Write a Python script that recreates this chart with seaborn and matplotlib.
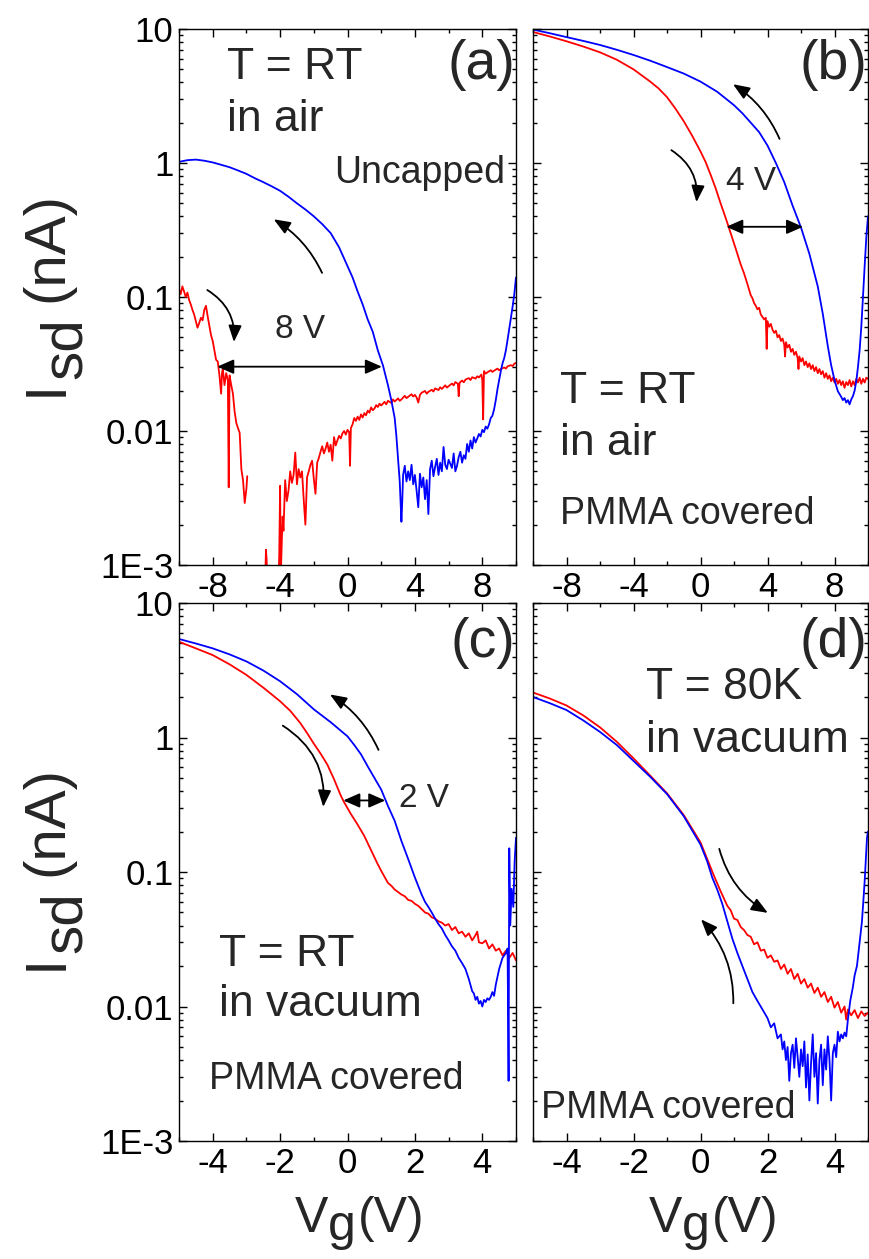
import matplotlib

matplotlib.use("Agg")
import matplotlib.pyplot as plt  # noqa: E402
import seaborn as sns  # noqa: E402
from matplotlib.ticker import (  # noqa: E402
    FuncFormatter,
    LogLocator,
    MultipleLocator,
    NullFormatter,
)

import numpy as np
import pandas as pd

nan = np.nan

# (Vg, Isd); nan marks a gap in the trace
A_DOWN = [(-10.0, 0.115), (-9.9, 0.105), (-9.8, 0.12), (-9.7, 0.11), (-9.6, 0.10), (-9.5, 0.108),
          (-9.4, 0.095), (-9.3, 0.088), (-9.2, 0.080), (-9.1, 0.074), (-9.0, 0.066), (-8.9, 0.059),
          (-8.8, 0.064), (-8.7, 0.070), (-8.6, 0.067), (-8.5, 0.080), (-8.4, 0.086), (-8.3, 0.072),
          (-8.2, 0.061), (-8.1, 0.052), (-8.0, 0.047), (-7.9, 0.040), (-7.8, 0.034), (-7.7, 0.033),
          (-7.6, 0.026), (-7.5, 0.019), (-7.45, 0.027), (-7.4, 0.029), (-7.3, 0.022), (-7.2, 0.027),
          (-7.1, 0.024), (-7.05, 0.0038), (-7.0, 0.026), (-6.9, 0.022), (-6.8, 0.019), (-6.7, 0.014),
          (-6.6, 0.0115), (-6.5, 0.0105), (-6.4, 0.0097), (-6.3, 0.0052), (-6.2, 0.0043), (-6.1, 0.0029),
          (-6.0, 0.0037), (-5.95, 0.0046), (-5.9, nan), (-4.88, 0.0008), (-4.84, 0.0013), (-4.8, 0.0011),
          (-4.76, 0.0007), (-4.7, nan), (-4.1, 0.0007), (-4.05, 0.0012), (-4.0, 0.0039), (-3.96, 0.0008),
          (-3.9, 0.0015), (-3.85, 0.0023), (-3.8, 0.0018), (-3.7, 0.0043), (-3.6, 0.0030), (-3.5, 0.0036),
          (-3.4, 0.0050), (-3.3, 0.0041), (-3.2, 0.0047), (-3.1, 0.0069), (-3.0, 0.0040), (-2.9, 0.0052),
          (-2.8, 0.0045), (-2.7, 0.0050), (-2.6, 0.0031), (-2.5, 0.0020), (-2.4, 0.0045), (-2.3, 0.0050),
          (-2.2, 0.0056), (-2.1, 0.0060), (-2.0, 0.0044), (-1.9, 0.0034), (-1.8, 0.0058), (-1.7, 0.0063),
          (-1.6, 0.0070), (-1.5, 0.0077), (-1.4, 0.0068), (-1.3, 0.0074), (-1.2, 0.0082), (-1.1, 0.0070),
          (-1.0, 0.0079), (-0.9, 0.0060), (-0.8, 0.0090), (-0.7, 0.0078), (-0.6, 0.0085), (-0.5, 0.0092),
          (-0.4, 0.0088), (-0.3, 0.0096), (-0.2, 0.0100), (-0.1, 0.0094), (0.0, 0.0102), (0.1, 0.0098),
          (0.15, 0.0055), (0.2, 0.0105), (0.3, 0.0112), (0.4, 0.0125), (0.5, 0.0119), (0.6, 0.0128),
          (0.7, 0.0121), (0.8, 0.0133), (0.9, 0.0126), (1.0, 0.0136), (1.1, 0.0131), (1.2, 0.0142),
          (1.3, 0.0137), (1.4, 0.0150), (1.5, 0.0143), (1.6, 0.0147), (1.7, 0.0156), (1.8, 0.0151),
          (1.9, 0.0160), (2.0, 0.0155), (2.2, 0.0165), (2.3, 0.0158), (2.4, 0.0168), (2.6, 0.0162),
          (2.7, 0.0172), (2.8, 0.0166), (3.0, 0.0175), (3.1, 0.0168), (3.2, 0.0172), (3.4, 0.0183),
          (3.5, 0.0176), (3.6, 0.0180), (3.8, 0.0188), (3.9, 0.0181), (4.0, 0.0186), (4.1, 0.0178),
          (4.2, 0.0163), (4.3, 0.0186), (4.4, 0.0193), (4.6, 0.0199), (4.7, 0.0190), (4.8, 0.0196),
          (5.0, 0.0203), (5.1, 0.0197), (5.2, 0.0208), (5.4, 0.0202), (5.5, 0.0212), (5.6, 0.0206),
          (5.8, 0.0219), (5.9, 0.0211), (6.0, 0.0216), (6.2, 0.0226), (6.3, 0.0219), (6.4, 0.0232),
          (6.55, 0.0225), (6.6, 0.0182), (6.65, 0.0229), (6.8, 0.0238), (6.9, 0.0231), (7.0, 0.0242),
          (7.2, 0.0248), (7.3, 0.0240), (7.4, 0.0252), (7.6, 0.0246), (7.7, 0.0256), (7.8, 0.0251),
          (7.95, 0.0264), (8.0, 0.0240), (8.05, 0.0122), (8.1, 0.0280), (8.2, 0.0268), (8.3, 0.0274),
          (8.5, 0.0284), (8.6, 0.0276), (8.7, 0.0282), (8.9, 0.0292), (9.0, 0.0284), (9.1, 0.0290),
          (9.3, 0.0298), (9.4, 0.0292), (9.5, 0.0304), (9.7, 0.0310), (9.8, 0.0305), (9.9, 0.0318),
          (10.0, 0.0322)]

A_UP = [(-10.0, 1.02), (-9.5, 1.05), (-9.0, 1.06), (-8.5, 1.04), (-8.0, 1.01), (-7.5, 0.97),
        (-7.0, 0.93), (-6.5, 0.88), (-6.0, 0.83), (-5.5, 0.77), (-5.0, 0.72), (-4.5, 0.67),
        (-4.0, 0.62), (-3.5, 0.56), (-3.0, 0.50), (-2.5, 0.45), (-2.0, 0.40), (-1.5, 0.35),
        (-1.0, 0.30), (-0.5, 0.235), (0.0, 0.17), (0.3, 0.14), (0.6, 0.11), (0.9, 0.088),
        (1.2, 0.068), (1.5, 0.055), (1.8, 0.040), (2.1, 0.031), (2.4, 0.022), (2.6, 0.017),
        (2.8, 0.0125), (2.9, 0.0092), (3.0, 0.0062), (3.1, 0.0042), (3.2, 0.0021), (3.25, 0.0030),
        (3.3, 0.0047), (3.4, 0.0055), (3.5, 0.0042), (3.6, 0.0050), (3.7, 0.0043), (3.8, 0.0056),
        (3.9, 0.0040), (4.0, 0.0047), (4.1, 0.0036), (4.2, 0.0027), (4.3, 0.0048), (4.4, 0.0038),
        (4.5, 0.0045), (4.6, 0.0031), (4.7, 0.0043), (4.8, 0.0024), (4.9, 0.0052), (5.0, 0.0060),
        (5.1, 0.0046), (5.2, 0.0054), (5.3, 0.0062), (5.4, 0.0047), (5.5, 0.0058), (5.6, 0.0050),
        (5.7, 0.0076), (5.8, 0.0056), (5.9, 0.0052), (6.0, 0.0061), (6.1, 0.0057), (6.2, 0.0053),
        (6.3, 0.0068), (6.4, 0.0050), (6.5, 0.0055), (6.6, 0.0064), (6.7, 0.0070), (6.8, 0.0058),
        (6.9, 0.0066), (7.0, 0.0062), (7.1, 0.0080), (7.2, 0.0070), (7.3, 0.0085), (7.4, 0.0074),
        (7.5, 0.0090), (7.6, 0.0082), (7.7, 0.0088), (7.8, 0.0095), (7.9, 0.0091), (8.0, 0.0102),
        (8.1, 0.0098), (8.2, 0.0108), (8.3, 0.0104), (8.4, 0.0112), (8.5, 0.0125), (8.6, 0.0130),
        (8.7, 0.0145), (8.8, 0.0170), (8.9, 0.0205), (9.0, 0.024), (9.1, 0.028), (9.2, 0.032),
        (9.3, 0.035), (9.4, 0.040), (9.5, 0.048), (9.6, 0.058), (9.7, 0.070), (9.8, 0.085),
        (9.9, 0.105), (10.0, 0.14)]

B_DOWN = [(-10.0, 9.5), (-9.0, 8.8), (-8.0, 8.1), (-7.0, 7.4), (-6.0, 6.7), (-5.0, 5.9), (-4.0, 5.0),
          (-3.0, 4.05), (-2.5, 3.6), (-2.0, 3.1), (-1.5, 2.55), (-1.0, 2.05), (-0.5, 1.6), (0.0, 1.22),
          (0.3, 1.02), (0.6, 0.82), (0.9, 0.65), (1.2, 0.50), (1.5, 0.39), (1.8, 0.30), (2.1, 0.23),
          (2.4, 0.175), (2.6, 0.15), (2.8, 0.125), (3.0, 0.103), (3.1, 0.098), (3.2, 0.090), (3.3, 0.086),
          (3.4, 0.081), (3.5, 0.083), (3.6, 0.074), (3.7, 0.071), (3.8, 0.068), (3.9, 0.070),
          (3.95, 0.041), (4.0, 0.066), (4.1, 0.060), (4.2, 0.063), (4.3, 0.057), (4.4, 0.054),
          (4.5, 0.056), (4.6, 0.050), (4.7, 0.052), (4.8, 0.047), (4.9, 0.049), (5.0, 0.044),
          (5.05, 0.036), (5.1, 0.046), (5.2, 0.042), (5.3, 0.044), (5.4, 0.039), (5.5, 0.041),
          (5.6, 0.037), (5.7, 0.039), (5.8, 0.035), (5.85, 0.029), (5.9, 0.036), (6.0, 0.033),
          (6.1, 0.035), (6.2, 0.031), (6.3, 0.033), (6.4, 0.030), (6.5, 0.032), (6.6, 0.029),
          (6.7, 0.031), (6.8, 0.028), (6.9, 0.030), (7.0, 0.027), (7.1, 0.029), (7.2, 0.0265),
          (7.3, 0.028), (7.4, 0.025), (7.5, 0.027), (7.6, 0.0245), (7.7, 0.026), (7.8, 0.0235),
          (7.9, 0.025), (8.0, 0.023), (8.1, 0.0245), (8.2, 0.0225), (8.3, 0.024), (8.4, 0.022),
          (8.5, 0.0235), (8.6, 0.021), (8.7, 0.0232), (8.8, 0.022), (8.9, 0.024), (9.0, 0.0215),
          (9.1, 0.0235), (9.2, 0.022), (9.3, 0.0245), (9.4, 0.023), (9.5, 0.025), (9.6, 0.0225),
          (9.7, 0.0245), (9.8, 0.023), (9.9, 0.025), (10.0, 0.0245)]

B_UP = [(-10.0, 9.9), (-9.0, 9.3), (-8.0, 8.7), (-7.0, 8.15), (-6.0, 7.6), (-5.0, 7.0), (-4.0, 6.4),
        (-3.0, 5.8), (-2.0, 5.2), (-1.0, 4.65), (0.0, 4.05), (1.0, 3.4), (2.0, 2.7), (2.5, 2.35),
        (3.0, 2.0), (3.5, 1.7), (4.0, 1.35), (4.5, 1.0), (5.0, 0.72), (5.5, 0.48), (6.0, 0.33),
        (6.5, 0.21), (7.0, 0.12), (7.3, 0.075), (7.6, 0.043), (7.8, 0.031), (8.0, 0.024),
        (8.2, 0.0198), (8.4, 0.0180), (8.5, 0.0170), (8.6, 0.0176), (8.7, 0.0163), (8.8, 0.0170),
        (8.9, 0.0158), (9.0, 0.0172), (9.1, 0.0182), (9.2, 0.0200), (9.3, 0.0235), (9.4, 0.030),
        (9.5, 0.040), (9.6, 0.060), (9.7, 0.10), (9.8, 0.17), (9.9, 0.28), (10.0, 0.40)]

C_DOWN = [(-5.0, 5.15), (-4.5, 4.6), (-4.0, 4.1), (-3.5, 3.5), (-3.0, 2.92), (-2.5, 2.35), (-2.0, 1.86),
          (-1.7, 1.58), (-1.4, 1.28), (-1.2, 1.08), (-1.0, 0.90), (-0.8, 0.76), (-0.6, 0.63),
          (-0.4, 0.49), (-0.2, 0.37), (-0.1, 0.33), (0.1, 0.27), (0.3, 0.225), (0.5, 0.185),
          (0.7, 0.145), (0.9, 0.114), (1.0, 0.102), (1.1, 0.092), (1.2, 0.083), (1.3, 0.079),
          (1.4, 0.074), (1.5, 0.071), (1.6, 0.068), (1.7, 0.066), (1.8, 0.062), (1.9, 0.061),
          (2.0, 0.058), (2.1, 0.056), (2.2, 0.053), (2.3, 0.050), (2.4, 0.049), (2.5, 0.046),
          (2.6, 0.045), (2.7, 0.043), (2.8, 0.042), (2.9, 0.040), (3.0, 0.041), (3.1, 0.037),
          (3.2, 0.039), (3.3, 0.035), (3.4, 0.036), (3.5, 0.033), (3.6, 0.035), (3.7, 0.031),
          (3.8, 0.034), (3.85, 0.036), (3.9, 0.030), (4.0, 0.0295), (4.1, 0.031), (4.2, 0.027),
          (4.3, 0.029), (4.4, 0.026), (4.5, 0.027), (4.6, 0.024), (4.7, 0.026), (4.8, 0.023),
          (4.9, 0.025), (5.0, 0.022)]

C_UP = [(-5.0, 5.4), (-4.5, 5.0), (-4.0, 4.6), (-3.5, 4.15), (-3.0, 3.68), (-2.5, 3.15), (-2.0, 2.62),
        (-1.5, 2.1), (-1.0, 1.62), (-0.5, 1.3), (0.0, 1.02), (0.2, 0.88), (0.4, 0.75), (0.6, 0.61),
        (0.8, 0.5), (1.0, 0.41), (1.2, 0.31), (1.4, 0.24), (1.6, 0.17), (1.8, 0.125), (2.0, 0.091),
        (2.2, 0.068), (2.3, 0.060), (2.4, 0.055), (2.5, 0.050), (2.6, 0.045), (2.7, 0.041),
        (2.8, 0.038), (2.9, 0.034), (3.0, 0.031), (3.1, 0.028), (3.2, 0.026), (3.3, 0.023),
        (3.4, 0.021), (3.5, 0.019), (3.6, 0.016), (3.7, 0.013), (3.75, 0.0125), (3.8, 0.0112),
        (3.85, 0.0118), (3.9, 0.0105), (3.95, 0.0110), (4.0, 0.0100), (4.05, 0.0112), (4.1, 0.0108),
        (4.15, 0.0115), (4.2, 0.0112), (4.25, 0.0118), (4.3, 0.0128), (4.35, 0.0120), (4.4, 0.0145),
        (4.5, 0.019), (4.6, 0.023), (4.7, 0.025), (4.75, 0.027), (4.78, 0.0028), (4.8, 0.15),
        (4.83, 0.04), (4.87, 0.075), (4.92, 0.055), (4.96, 0.12), (5.0, 0.18)]

D_DOWN = [(-5.0, 2.16), (-4.5, 1.95), (-4.0, 1.73), (-3.5, 1.46), (-3.0, 1.19), (-2.5, 0.93), (-2.0, 0.70),
          (-1.5, 0.52), (-1.0, 0.385), (-0.5, 0.265), (0.0, 0.166), (0.2, 0.125), (0.4, 0.094),
          (0.6, 0.072), (0.8, 0.056), (0.9, 0.052), (1.0, 0.045), (1.1, 0.044), (1.2, 0.039),
          (1.3, 0.037), (1.4, 0.034), (1.5, 0.033), (1.6, 0.029), (1.7, 0.030), (1.8, 0.026),
          (1.9, 0.0265), (2.0, 0.023), (2.1, 0.024), (2.2, 0.0215), (2.3, 0.022), (2.4, 0.019),
          (2.5, 0.0205), (2.6, 0.0175), (2.7, 0.019), (2.8, 0.016), (2.9, 0.0175), (3.0, 0.0148),
          (3.1, 0.016), (3.2, 0.0138), (3.3, 0.0148), (3.4, 0.0126), (3.5, 0.0138), (3.6, 0.0118),
          (3.7, 0.0128), (3.8, 0.0108), (3.9, 0.0118), (4.0, 0.0098), (4.1, 0.0108), (4.2, 0.0090),
          (4.3, 0.0100), (4.35, 0.0080), (4.4, 0.0095), (4.5, 0.0086), (4.6, 0.0094), (4.7, 0.0082),
          (4.8, 0.0092), (4.9, 0.0085), (5.0, 0.0090)]

D_UP = [(-5.0, 2.0), (-4.5, 1.8), (-4.0, 1.6), (-3.5, 1.34), (-3.0, 1.1), (-2.5, 0.88), (-2.0, 0.67),
        (-1.5, 0.51), (-1.0, 0.38), (-0.5, 0.26), (0.0, 0.16), (0.2, 0.12), (0.35, 0.091), (0.5, 0.074),
        (0.65, 0.058), (0.8, 0.043), (0.95, 0.032), (1.1, 0.025), (1.25, 0.020), (1.4, 0.016),
        (1.55, 0.0128), (1.7, 0.011), (1.85, 0.0095), (2.0, 0.0082), (2.1, 0.0070), (2.2, 0.0075),
        (2.3, 0.0058), (2.4, 0.0062), (2.45, 0.0048), (2.5, 0.0055), (2.55, 0.0040), (2.6, 0.0050),
        (2.65, 0.0028), (2.7, 0.0045), (2.75, 0.0052), (2.8, 0.0035), (2.85, 0.0058), (2.9, 0.0042),
        (2.95, 0.0030), (3.0, 0.0048), (3.05, 0.0036), (3.1, 0.0055), (3.15, 0.0025), (3.2, 0.0044),
        (3.25, 0.0020), (3.3, 0.0038), (3.35, 0.0062), (3.4, 0.0030), (3.45, 0.0045), (3.5, 0.0019),
        (3.55, 0.0040), (3.6, 0.0052), (3.65, 0.0026), (3.7, 0.0048), (3.75, 0.0034), (3.8, 0.0060),
        (3.85, 0.0040), (3.9, 0.0020), (3.95, 0.0045), (4.0, 0.0052), (4.05, 0.0042), (4.1, 0.0065),
        (4.15, 0.0055), (4.2, 0.0062), (4.25, 0.0058), (4.3, 0.0064), (4.35, 0.0060), (4.4, 0.0080),
        (4.47, 0.011), (4.55, 0.014), (4.6, 0.017), (4.67, 0.020), (4.75, 0.030), (4.82, 0.043),
        (4.9, 0.085), (4.97, 0.18), (5.0, 0.2)]

Y_TICKS = [1e-3, 1e-2, 1e-1, 1, 10]
Y_TICK_LABELS = ["1E-3", "0.01", "0.1", "1", "10"]

W, H = 870, 1259


def frame(down, up):
    rows = []
    for sweep, pts in (("down", down), ("up", up)):
        seg = 0
        for x, y in pts:
            if np.isnan(y):
                seg += 1
                continue
            rows.append((x, y, sweep, f"{sweep}{seg}"))
    return pd.DataFrame(rows, columns=["Vg", "Isd", "sweep", "seg"])


def px(x, y):
    return x / W, 1 - y / H


sns.set_style("ticks")
plt.rcParams["font.family"] = ["Liberation Sans", "DejaVu Sans"]
plt.rcParams["axes.unicode_minus"] = False
plt.rcParams["axes.linewidth"] = 1.0

fig = plt.figure(figsize=(W / 100, H / 100), dpi=100)

panels = [
    ("a", [179, 29, 337, 536], (-10, 10), 4, 2, True, A_DOWN, A_UP),
    ("b", [533, 29, 335, 536], (-10, 10), 4, 2, False, B_DOWN, B_UP),
    ("c", [179, 603, 337, 538], (-5, 5), 2, 1, True, C_DOWN, C_UP),
    ("d", [533, 603, 335, 538], (-5, 5), 2, 1, False, D_DOWN, D_UP),
]

ylab = {v: s for v, s in zip(Y_TICKS, Y_TICK_LABELS)}
axes = {}
for name, (l, t, w, h), xlim, major, minor, show_y, down, up in panels:
    ax = fig.add_axes([l / W, 1 - (t + h) / H, w / W, h / H])
    ax.set_yscale("log")
    sns.lineplot(data=frame(down, up), x="Vg", y="Isd", hue="sweep", units="seg",
                 estimator=None, sort=False, hue_order=["down", "up"],
                 palette={"down": "#ff0000", "up": "#0000ff"}, linewidth=1.3,
                 legend=False, ax=ax)
    ax.set_xlim(*xlim)
    ax.set_ylim(1e-3, 10)
    ax.set_xlabel("")
    ax.set_ylabel("")
    ax.xaxis.set_major_locator(MultipleLocator(major))
    ax.xaxis.set_minor_locator(MultipleLocator(minor))
    ax.yaxis.set_major_locator(LogLocator(base=10))
    ax.yaxis.set_minor_locator(LogLocator(base=10, subs=range(2, 10), numticks=20))
    ax.yaxis.set_major_formatter(FuncFormatter(lambda v, p: ylab.get(round(v, 6), "")))
    ax.yaxis.set_minor_formatter(NullFormatter())
    ax.tick_params(which="both", direction="in", top=True, right=True, width=1.0,
                   colors="black")
    ax.tick_params(which="major", length=6, labelsize=25, pad=4)
    ax.tick_params(which="minor", length=3)
    ax.tick_params(axis="y", which="major", pad=4)
    if not show_y:
        ax.tick_params(labelleft=False)
    for s in ax.spines.values():
        s.set_color("black")
    axes[name] = ax

big = 32
mid = 27
small = 24


def note(ax, s, x, y, size, ha="left"):
    ax.text(x, y, s, transform=ax.transAxes, fontsize=size, ha=ha, va="baseline")


def curved(ax, tail, head, rad):
    ax.annotate("", xy=head, xytext=tail, xycoords="axes fraction", textcoords="axes fraction",
                arrowprops=dict(arrowstyle="-|>,head_length=0.5,head_width=0.2",
                                connectionstyle=f"arc3,rad={rad}", color="black", lw=1.3,
                                mutation_scale=20, shrinkA=0, shrinkB=0))


def span(ax, x0, x1, y):
    ax.annotate("", xy=(x1, y), xytext=(x0, y), xycoords="axes fraction",
                textcoords="axes fraction",
                arrowprops=dict(arrowstyle="<|-|>,head_length=0.5,head_width=0.22",
                                color="black", lw=1.3, mutation_scale=20, shrinkA=0, shrinkB=0))


ax = axes["a"]
note(ax, "T = RT", 0.143, 0.906, big)
note(ax, "in air", 0.143, 0.809, big)
note(ax, "Uncapped", 0.459, 0.713, mid)
note(ax, "(a)", 0.997, 0.906, 40, ha="right")
note(ax, "8 V", 0.36, 0.424, small, ha="center")
curved(ax, (0.4245, 0.545), (0.281, 0.645), 0.15)
curved(ax, (0.084, 0.513), (0.163, 0.416), -0.3)
span(ax, 0.1135, 0.602, 0.37)

ax = axes["b"]
note(ax, "(b)", 0.997, 0.906, 40, ha="right")
note(ax, "4 V", 0.577, 0.699, small)
note(ax, "T = RT", 0.08, 0.302, big)
note(ax, "in air", 0.08, 0.206, big)
note(ax, "PMMA covered", 0.08, 0.077, mid)
curved(ax, (0.736, 0.795), (0.597, 0.897), 0.15)
curved(ax, (0.413, 0.774), (0.488, 0.677), -0.3)
span(ax, 0.577, 0.806, 0.631)

ax = axes["c"]
note(ax, "(c)", 0.997, 0.90, 40, ha="right")
note(ax, "2 V", 0.652, 0.621, small)
note(ax, "T = RT", 0.119, 0.326, big)
note(ax, "in vacuum", 0.119, 0.232, big)
note(ax, "PMMA covered", 0.0896, 0.0966, mid)
curved(ax, (0.592, 0.727), (0.448, 0.830), 0.15)
curved(ax, (0.308, 0.772), (0.428, 0.621), -0.3)
span(ax, 0.4876, 0.612, 0.633)

ax = axes["d"]
note(ax, "(d)", 0.997, 0.90, 40, ha="right")
note(ax, "T = 80K", 0.337, 0.821, big)
note(ax, "in vacuum", 0.337, 0.723, big)
note(ax, "PMMA covered", 0.023, 0.0434, mid)
curved(ax, (0.556, 0.543), (0.701, 0.424), 0.2)
curved(ax, (0.598, 0.256), (0.5015, 0.412), 0.2)

# axis titles, built from pieces so the subscripts stay full size
for dy in (0, 574):
    for s, x, y in (("I", 62, 396), ("sd", 81, 379), ("(nA)", 62, 302)):
        fig.text(*px(x, y + dy), s, fontsize=42, rotation=90, rotation_mode="anchor",
                 ha="left", va="baseline")
for dx in (0, 354):
    for s, x, y in (("V", 295, 1232), ("g", 328, 1240), ("(V)", 358, 1232)):
        fig.text(*px(x + dx, y), s, fontsize=36, ha="left", va="baseline")

fig.savefig("out.png", dpi=100)
